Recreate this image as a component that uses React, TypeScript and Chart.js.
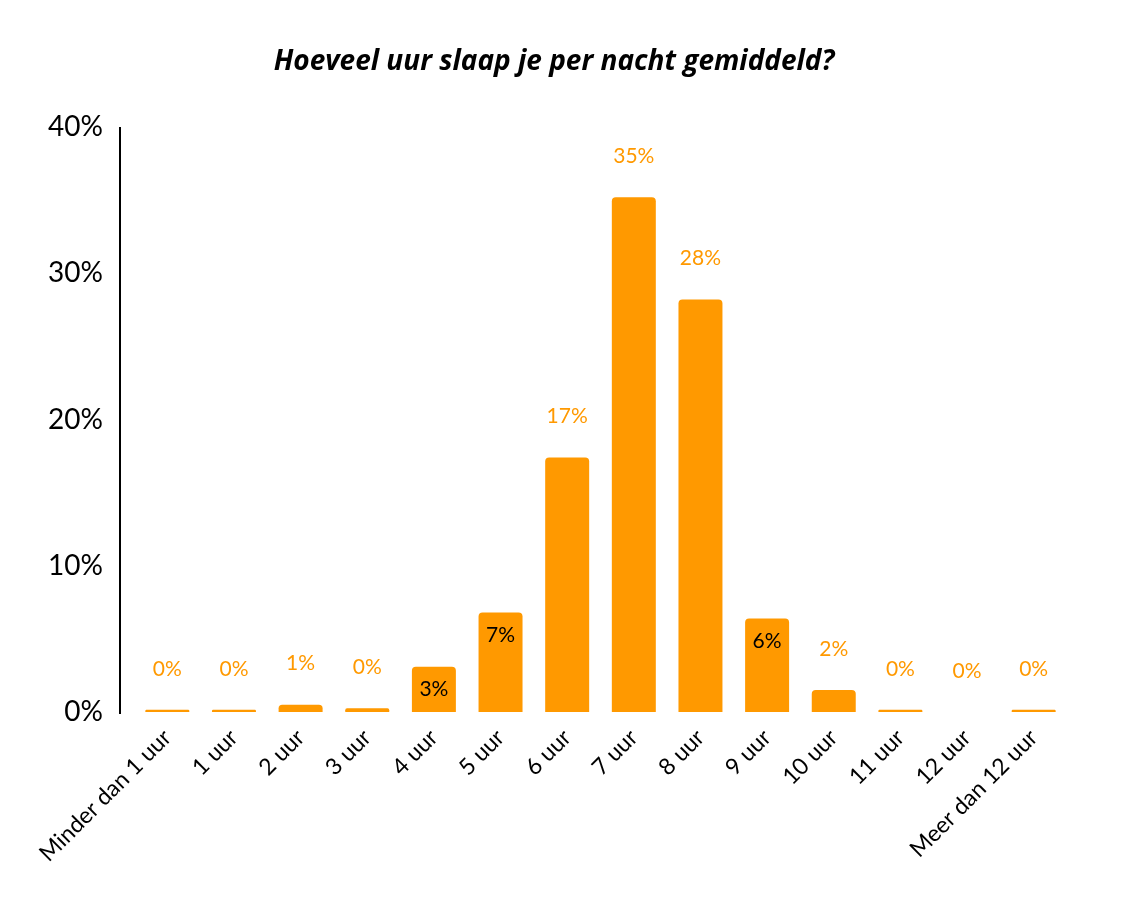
import React, { useEffect, useRef } from "react";
import { Chart, registerables } from "chart.js";

Chart.register(...registerables);

const title = "Hoeveel uur slaap je per nacht gemiddeld?";
const categories = [
  "Minder dan 1 uur",
  "1 uur",
  "2 uur",
  "3 uur",
  "4 uur",
  "5 uur",
  "6 uur",
  "7 uur",
  "8 uur",
  "9 uur",
  "10 uur",
  "11 uur",
  "12 uur",
  "Meer dan 12 uur",
];
const values = [0.15, 0.15, 0.5, 0.25, 3.1, 6.8, 17.4, 35.2, 28.2, 6.4, 1.5, 0.15, 0, 0.15];
const valueLabels = ["0%", "0%", "1%", "0%", "3%", "7%", "17%", "35%", "28%", "6%", "2%", "0%", "0%", "0%"];
const labelInside = [false, false, false, false, true, true, false, false, false, true, false, false, false, false];
const yMax = 40;
const yStep = 10;

const ORANGE = "#FF9900";
const FONT = "Lato, 'Open Sans', sans-serif";
const TITLE_FONT = "'Open Sans', Lato, sans-serif";

export default function App() {
  const canvasRef = useRef<HTMLCanvasElement | null>(null);

  useEffect(() => {
    if (!canvasRef.current) return;

    const titlePlugin = {
      id: "customTitle",
      afterDraw(chart: any) {
        const { ctx } = chart;
        ctx.save();
        ctx.font = `italic bold 28px ${TITLE_FONT}`;
        ctx.fillStyle = "#000";
        ctx.textAlign = "center";
        ctx.textBaseline = "middle";
        ctx.fillText(title, 554, 62);
        ctx.restore();
      },
    };

    const axisLinePlugin = {
      id: "axisLine",
      beforeDatasetsDraw(chart: any) {
        const { ctx, chartArea } = chart;
        ctx.save();
        ctx.strokeStyle = "#000";
        ctx.lineWidth = 2;
        ctx.beginPath();
        ctx.moveTo(chartArea.left - 14, chartArea.top);
        ctx.lineTo(chartArea.left - 14, chartArea.bottom + 2);
        ctx.stroke();
        ctx.restore();
      },
    };

    const labelPlugin = {
      id: "barLabels",
      afterDatasetsDraw(chart: any) {
        const { ctx } = chart;
        const meta = chart.getDatasetMeta(0);
        ctx.save();
        ctx.font = `21px ${FONT}`;
        ctx.textAlign = "center";
        ctx.textBaseline = "middle";
        meta.data.forEach((bar: any, i: number) => {
          if (labelInside[i]) {
            ctx.fillStyle = "#000";
            ctx.fillText(valueLabels[i], bar.x, bar.y + 23);
          } else {
            ctx.fillStyle = ORANGE;
            ctx.fillText(valueLabels[i], bar.x, bar.y - 41);
          }
        });
        ctx.restore();
      },
    };

    const chart = new Chart(canvasRef.current, {
      type: "bar",
      data: {
        labels: categories,
        datasets: [
          {
            data: values,
            backgroundColor: ORANGE,
            borderRadius: 4,
            borderSkipped: "start",
            categoryPercentage: 1,
            barPercentage: 0.66,
          },
        ],
      },
      options: {
        responsive: false,
        animation: false,
        layout: { padding: { left: 0, right: 58, top: 127, bottom: 0 } },
        plugins: {
          legend: { display: false },
          tooltip: { enabled: false },
          title: { display: false },
        },
        scales: {
          x: {
            grid: { display: false, drawTicks: false },
            border: { display: false },
            ticks: {
              color: "#000",
              font: { family: FONT, size: 23 },
              minRotation: 45,
              maxRotation: 45,
              autoSkip: false,
              padding: 12,
            },
            afterFit(scale: any) {
              scale.height = 197;
            },
          },
          y: {
            min: 0,
            max: yMax,
            grid: { display: false, drawTicks: false },
            border: { display: false },
            ticks: {
              stepSize: yStep,
              color: "#000",
              font: { family: FONT, size: 28 },
              padding: 31,
              callback: (v: any) => `${v}%`,
            },
            afterFit(scale: any) {
              scale.width = 134;
            },
          },
        },
      },
      plugins: [axisLinePlugin, labelPlugin, titlePlugin],
    });

    return () => chart.destroy();
  }, []);

  return (
    <div style={{ position: "absolute", left: 0, top: 0, width: 1125, height: 909, background: "#fff" }}>
      <canvas ref={canvasRef} width={1125} height={909} />
    </div>
  );
}
